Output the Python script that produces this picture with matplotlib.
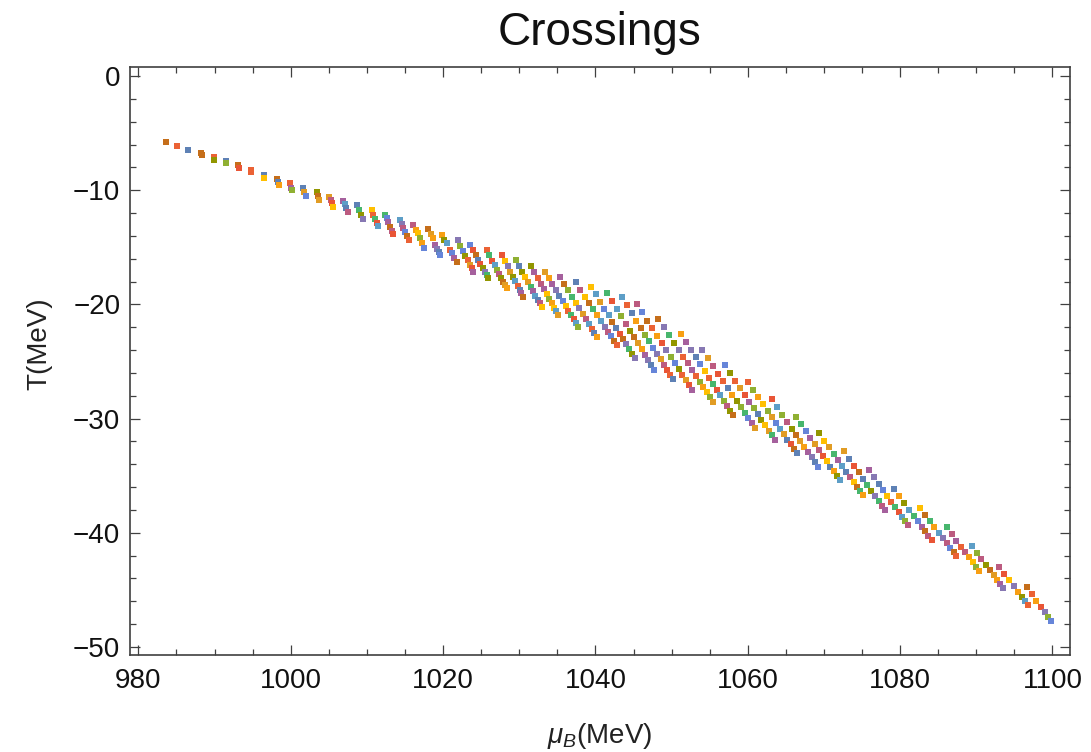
import matplotlib
matplotlib.use("Agg")
import matplotlib.pyplot as plt
from matplotlib.ticker import MultipleLocator

plt.rcParams['font.family'] = ['Liberation Sans', 'DejaVu Sans']
plt.rcParams['mathtext.fontset'] = 'custom'
plt.rcParams['mathtext.rm'] = 'Liberation Sans'
plt.rcParams['mathtext.it'] = 'Liberation Sans:italic'

title = "Crossings"
xlabel = r"$\mu_B$(MeV)"
ylabel = "T(MeV)"
x_ticks = [980, 1000, 1020, 1040, 1060, 1080, 1100]
y_ticks = [0, -10, -20, -30, -40, -50]

# Each inner list is one streak of crossing points
mu_B = [
    [983.64], [985.12], [986.56],
    [988.2, 988.3], [989.89, 989.95], [991.45, 991.55], [993.1, 993.15],
    [994.78, 994.85], [996.45, 996.55],
    [998.2, 998.37, 998.43], [999.91, 1000.04, 1000.13],
    [1001.65, 1001.78, 1001.97], [1003.41, 1003.54, 1003.71],
    [1005.07, 1005.29, 1005.46, 1005.59], [1006.9, 1007.13, 1007.22, 1007.48],
    [1008.66, 1008.96, 1009.23, 1009.53],
    [1010.63, 1010.84, 1011.06, 1011.29, 1011.5],
    [1012.38, 1012.6, 1012.81, 1013.03, 1013.25, 1013.46],
    [1014.34, 1014.57, 1014.78, 1015.0, 1015.22, 1015.53],
    [1016.09, 1016.4, 1016.67, 1016.97, 1017.19, 1017.53],
    [1018.06, 1018.41, 1018.64, 1018.94, 1019.2, 1019.4, 1019.59],
    [1019.82, 1020.16, 1020.47, 1020.91, 1021.13, 1021.47, 1021.78],
    [1021.9, 1022.27, 1022.61, 1022.93, 1023.23, 1023.5, 1023.74, 1023.96],
    [1023.53, 1023.91, 1024.27, 1024.6, 1024.91, 1025.2, 1025.47, 1025.71, 1025.93],
    [1025.72, 1026.09, 1026.44, 1026.77, 1027.08, 1027.38, 1027.65, 1027.9, 1028.14, 1028.35],
    [1027.69, 1028.09, 1028.47, 1028.82, 1029.16, 1029.47, 1029.77, 1030.04, 1030.29, 1030.52],
    [1029.53, 1029.96, 1030.38, 1030.77, 1031.14, 1031.49, 1031.82, 1032.13, 1032.42, 1032.69, 1032.94],
    [1031.54, 1032.0, 1032.43, 1032.84, 1033.23, 1033.6, 1033.95, 1034.27, 1034.58, 1034.86, 1035.12],
    [1033.37, 1033.88, 1034.36, 1034.82, 1035.26, 1035.68, 1036.08, 1036.45, 1036.81, 1037.14, 1037.45, 1037.74],
    [1035.34, 1035.9, 1036.43, 1036.94, 1037.43, 1037.89, 1038.33, 1038.74, 1039.13, 1039.5, 1039.84, 1040.16],
    [1037.4, 1038.02, 1038.62, 1039.19, 1039.73, 1040.25, 1040.74, 1041.2, 1041.63, 1042.04, 1042.42, 1042.78],
    [1039.41, 1040.02, 1040.61, 1041.18, 1041.72, 1042.24, 1042.73, 1043.2, 1043.64, 1044.06, 1044.46, 1044.83, 1045.18],
    [1041.47, 1042.13, 1042.77, 1043.38, 1043.97, 1044.53, 1045.06, 1045.57, 1046.05, 1046.51, 1046.94, 1047.34, 1047.72],
    [1043.44, 1044.11, 1044.75, 1045.36, 1045.96, 1046.52, 1047.07, 1047.59, 1048.09, 1048.56, 1049.01, 1049.43, 1049.83, 1050.21],
    [1045.41, 1046.13, 1046.82, 1047.48, 1048.12, 1048.73, 1049.32, 1049.88, 1050.41, 1050.92, 1051.41, 1051.86, 1052.3, 1052.7],
    [1048.24, 1048.95, 1049.63, 1050.29, 1050.92, 1051.53, 1052.11, 1052.67, 1053.2, 1053.7, 1054.18, 1054.63, 1055.06, 1055.46],
    [1051.22, 1051.89, 1052.54, 1053.17, 1053.77, 1054.35, 1054.9, 1055.43, 1055.93, 1056.41, 1056.86, 1057.29, 1057.7, 1058.08],
    [1054.02, 1054.75, 1055.46, 1056.14, 1056.78, 1057.4, 1057.99, 1058.55, 1059.09, 1059.59, 1060.07, 1060.51, 1060.93],
    [1057.0, 1057.7, 1058.36, 1059.01, 1059.62, 1060.21, 1060.77, 1061.3, 1061.8, 1062.28, 1062.73, 1063.15, 1063.55],
    [1060.05, 1060.72, 1061.37, 1062.0, 1062.59, 1063.16, 1063.7, 1064.22, 1064.71, 1065.17, 1065.61, 1066.02, 1066.4],
    [1063.12, 1063.83, 1064.51, 1065.15, 1065.77, 1066.36, 1066.91, 1067.44, 1067.94, 1068.4, 1068.84, 1069.24],
    [1066.27, 1066.94, 1067.59, 1068.2, 1068.79, 1069.35, 1069.88, 1070.38, 1070.85, 1071.29, 1071.7, 1072.09],
    [1069.37, 1070.04, 1070.68, 1071.29, 1071.87, 1072.43, 1072.95, 1073.45, 1073.92, 1074.36, 1074.77, 1075.15],
    [1072.61, 1073.29, 1073.94, 1074.56, 1075.15, 1075.7, 1076.23, 1076.72, 1077.17, 1077.6, 1077.99],
    [1075.89, 1076.55, 1077.17, 1077.76, 1078.33, 1078.86, 1079.36, 1079.83, 1080.27, 1080.67, 1081.05],
    [1079.21, 1079.9, 1080.56, 1081.17, 1081.76, 1082.3, 1082.81, 1083.28, 1083.72, 1084.12],
    [1082.58, 1083.26, 1083.9, 1084.51, 1085.08, 1085.62, 1086.12, 1086.58, 1087.01, 1087.4],
    [1086.09, 1086.76, 1087.39, 1087.98, 1088.53, 1089.04, 1089.51, 1089.94, 1090.33],
    [1089.37, 1090.03, 1090.64, 1091.22, 1091.76, 1092.26, 1092.72, 1093.14, 1093.52],
    [1093.0, 1093.68, 1094.32, 1094.91, 1095.45, 1095.95, 1096.4, 1096.8],
    [1096.59, 1097.27, 1097.9, 1098.48, 1099.0, 1099.46, 1099.87],
]

T_MeV = [
    [-5.75], [-6.13], [-6.45],
    [-6.76, -6.95], [-7.12, -7.33], [-7.45, -7.65], [-7.8, -8.08],
    [-8.22, -8.42], [-8.65, -8.9],
    [-9.05, -9.31, -9.54], [-9.4, -9.78, -9.98],
    [-9.83, -10.13, -10.48], [-10.13, -10.48, -10.86],
    [-10.62, -10.86, -11.15, -11.44], [-10.95, -11.24, -11.59, -11.88],
    [-11.3, -11.73, -12.17, -12.52],
    [-11.73, -12.17, -12.52, -12.9, -13.13],
    [-12.17, -12.46, -12.81, -13.2, -13.55, -13.84],
    [-12.61, -12.99, -13.34, -13.63, -13.98, -14.36],
    [-13.05, -13.49, -13.78, -14.21, -14.65, -15.04],
    [-13.43, -13.84, -14.21, -14.8, -15.15, -15.4, -15.67],
    [-13.92, -14.36, -14.65, -15.24, -15.53, -15.96, -16.31],
    [-14.36, -14.86, -15.32, -15.76, -16.15, -16.52, -16.85, -17.14],
    [-14.8, -15.26, -15.69, -16.1, -16.48, -16.83, -17.15, -17.45, -17.72],
    [-15.24, -15.71, -16.16, -16.58, -16.98, -17.35, -17.7, -18.02, -18.32, -18.59],
    [-15.67, -16.18, -16.67, -17.13, -17.56, -17.97, -18.35, -18.7, -19.02, -19.32],
    [-16.11, -16.63, -17.12, -17.6, -18.04, -18.46, -18.86, -19.23, -19.58, -19.9, -20.2],
    [-16.64, -17.19, -17.7, -18.2, -18.67, -19.11, -19.52, -19.91, -20.28, -20.62, -20.93],
    [-17.14, -17.7, -18.23, -18.74, -19.22, -19.68, -20.12, -20.54, -20.93, -21.29, -21.63, -21.95],
    [-17.57, -18.18, -18.76, -19.32, -19.85, -20.35, -20.83, -21.28, -21.71, -22.11, -22.48, -22.83],
    [-18.07, -18.7, -19.31, -19.89, -20.44, -20.97, -21.47, -21.94, -22.38, -22.8, -23.19, -23.55],
    [-18.45, -19.12, -19.76, -20.37, -20.96, -21.52, -22.06, -22.56, -23.05, -23.51, -23.94, -24.34, -24.72],
    [-18.97, -19.69, -20.38, -21.04, -21.68, -22.29, -22.86, -23.41, -23.93, -24.43, -24.89, -25.33, -25.74],
    [-19.38, -20.09, -20.77, -21.42, -22.05, -22.65, -23.23, -23.78, -24.31, -24.81, -25.29, -25.74, -26.16, -26.56],
    [-19.96, -20.7, -21.41, -22.1, -22.76, -23.4, -24.0, -24.58, -25.14, -25.66, -26.16, -26.63, -27.08, -27.5],
    [-21.3, -22.01, -22.69, -23.35, -23.98, -24.59, -25.17, -25.73, -26.26, -26.76, -27.24, -27.69, -28.12, -28.52],
    [-22.62, -23.31, -23.98, -24.63, -25.24, -25.84, -26.41, -26.95, -27.47, -27.96, -28.43, -28.87, -29.29, -29.68],
    [-23.99, -24.71, -25.41, -26.08, -26.71, -27.32, -27.91, -28.46, -28.98, -29.48, -29.95, -30.39, -30.8],
    [-25.31, -26.01, -26.68, -27.32, -27.93, -28.52, -29.08, -29.62, -30.12, -30.6, -31.05, -31.47, -31.87],
    [-26.82, -27.48, -28.12, -28.73, -29.31, -29.87, -30.4, -30.9, -31.38, -31.84, -32.26, -32.66, -33.04],
    [-28.31, -28.99, -29.65, -30.27, -30.87, -31.43, -31.97, -32.47, -32.95, -33.4, -33.82, -34.21],
    [-29.83, -30.47, -31.09, -31.67, -32.23, -32.77, -33.27, -33.75, -34.2, -34.62, -35.01, -35.38],
    [-31.29, -31.92, -32.51, -33.08, -33.63, -34.15, -34.64, -35.1, -35.54, -35.95, -36.33, -36.69],
    [-32.84, -33.5, -34.12, -34.71, -35.28, -35.81, -36.31, -36.78, -37.22, -37.62, -38.0],
    [-34.5, -35.11, -35.7, -36.25, -36.78, -37.27, -37.74, -38.18, -38.59, -38.97, -39.32],
    [-36.19, -36.82, -37.41, -37.97, -38.49, -38.99, -39.45, -39.87, -40.27, -40.63],
    [-37.85, -38.44, -39.0, -39.52, -40.02, -40.48, -40.92, -41.32, -41.69, -42.03],
    [-39.52, -40.12, -40.68, -41.21, -41.71, -42.16, -42.58, -42.97, -43.32],
    [-41.16, -41.74, -42.29, -42.81, -43.29, -43.73, -44.14, -44.52, -44.86],
    [-43.02, -43.61, -44.17, -44.68, -45.15, -45.58, -45.97, -46.32],
    [-44.77, -45.38, -45.94, -46.46, -46.92, -47.33, -47.7],
]

# Mathematica default plot palette (ColorData[97])
palette = ["#5E81B5", "#E19C24", "#8FB032", "#EB6235", "#8778B3",
           "#C56E1A", "#5D9EC7", "#FFBF00", "#A5609D", "#929600",
           "#E95536", "#6685D9", "#F89F13", "#BC5B80", "#47B66D"]

fig = plt.figure(figsize=(10.91, 7.52), dpi=100)
ax = fig.add_axes([130 / 1091, 1 - 655 / 752, 940 / 1091, 588 / 752])

lead = [5, 3, 0]
for i, (xs, ys) in enumerate(zip(mu_B, T_MeV)):
    for k, (x, y) in enumerate(zip(xs, ys)):
        if k == 0 and i < 12:
            c = palette[lead[i % 3]]
        else:
            c = palette[(i * 7 + k * 11 + (i * k) % 4) % 15]
        ax.plot([x], [y], marker='s', markersize=4.0, markeredgewidth=0,
                color=c, linestyle='none')

ax.set_xlim(978.9, 1102.3)
ax.set_ylim(-50.7, 0.79)
ax.set_xticks(x_ticks)
ax.set_yticks(y_ticks)
ax.xaxis.set_minor_locator(MultipleLocator(5))
ax.yaxis.set_minor_locator(MultipleLocator(2))
ax.tick_params(which='both', direction='in', top=True, right=True,
               color='#404040', width=0.9, labelsize=20, labelcolor='#111111')
ax.tick_params(which='major', length=7)
ax.tick_params(which='minor', length=4.5)
ax.tick_params(axis='x', which='major', pad=9)
ax.tick_params(axis='y', which='major', pad=7)
for s in ax.spines.values():
    s.set_color('#404040')
    s.set_linewidth(1.2)

ax.set_title(title, fontsize=33, pad=16, color='#111111')
ax.set_xlabel(xlabel, fontsize=20, color='#222222', labelpad=20)
ax.set_ylabel(ylabel, fontsize=20, color='#222222', labelpad=16)
ax.yaxis.set_label_coords(-0.083, 0.53)

fig.savefig("out.png", dpi=100)
